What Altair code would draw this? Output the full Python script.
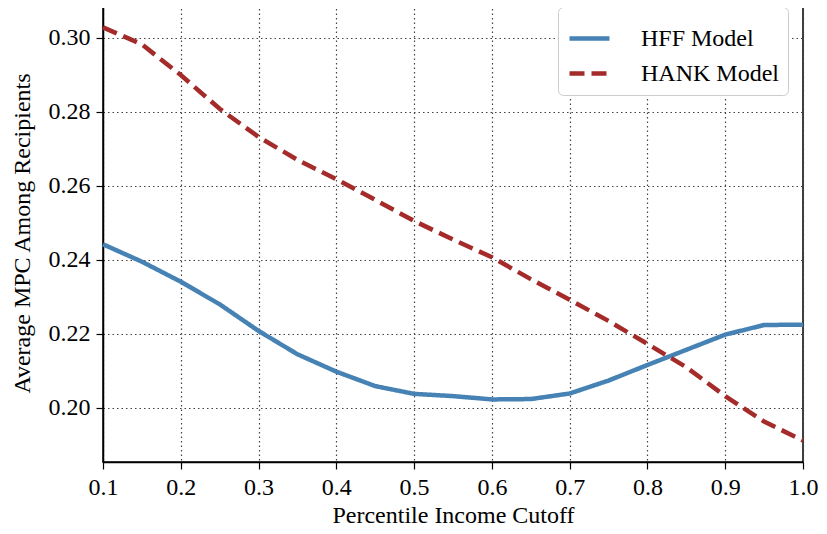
import altair as alt
import pandas as pd

x_vals = [0.10, 0.15, 0.20, 0.25, 0.30, 0.35, 0.40, 0.45, 0.50, 0.55,
          0.60, 0.65, 0.70, 0.75, 0.80, 0.85, 0.90, 0.95, 1.00]
hff = [0.2442, 0.2395, 0.2341, 0.2280, 0.2208, 0.2145, 0.2098, 0.2059, 0.2038, 0.2032,
       0.2023, 0.2024, 0.2039, 0.2074, 0.2116, 0.2157, 0.2198, 0.2224, 0.2225]
hank = [0.3028, 0.2982, 0.2899, 0.2808, 0.2732, 0.2670, 0.2618, 0.2562, 0.2505, 0.2455,
        0.2407, 0.2348, 0.2292, 0.2235, 0.2173, 0.2110, 0.2032, 0.1963, 0.1912]
series_names = ["HFF Model", "HANK Model"]
x_ticks = [0.1, 0.2, 0.3, 0.4, 0.5, 0.6, 0.7, 0.8, 0.9, 1.0]
y_ticks = [0.20, 0.22, 0.24, 0.26, 0.28, 0.30]

rows = []
for xv, a, b in zip(x_vals, hff, hank):
    rows.append({"x": xv, "y": a, "model": series_names[0]})
    rows.append({"x": xv, "y": b, "model": series_names[1]})
df = pd.DataFrame(rows)

FONT = "Liberation Serif"

legend = alt.Legend(title=None, orient="none", legendX=455, legendY=3,
                    symbolType="stroke", symbolSize=1600,
                    symbolStrokeWidth=4.5, labelFontSize=24,
                    labelFont=FONT, labelColor="black", fillColor="white",
                    strokeColor="#cccccc", cornerRadius=5,
                    padding=9, rowPadding=-2, labelOffset=29, labelFontWeight="normal")

chart = alt.Chart(df).mark_line(strokeWidth=4.5).encode(
    x=alt.X("x:Q", title="Percentile Income Cutoff",
            scale=alt.Scale(domain=[0.1, 1.0], nice=False, zero=False),
            axis=alt.Axis(values=x_ticks, format=".1f", labelFlush=False,
                          labelFontSize=24, titleFontSize=24, labelFont=FONT,
                          titleFont=FONT, titlePadding=4, labelPadding=6)),
    y=alt.Y("y:Q", title="Average MPC Among Recipients",
            scale=alt.Scale(domain=[0.1854, 0.3091], nice=False, zero=False),
            axis=alt.Axis(values=y_ticks, format=".2f", labelFlush=False,
                          labelFontSize=24, titleFontSize=24, labelFont=FONT,
                          titleFont=FONT, titlePadding=14, labelPadding=6)),
    color=alt.Color("model:N", sort=series_names,
                    scale=alt.Scale(domain=series_names, range=["#4682b4", "#a52a2a"]),
                    legend=legend),
    strokeDash=alt.StrokeDash("model:N", sort=series_names,
                              scale=alt.Scale(domain=series_names, range=[[1, 0], [15, 7]]),
                              legend=legend),
).properties(
    width=700, height=458,
    autosize=alt.AutoSizeParams(type="none"),
    padding={"left": 95, "top": -4, "right": 16, "bottom": 64},
).configure(
    font=FONT
).configure_view(
    stroke="black", strokeWidth=1.5
).configure_axis(
    labelFont=FONT, titleFont=FONT, labelColor="black", titleColor="black",
    titleFontWeight="normal", labelFontWeight="normal",
    domainColor="black", domainWidth=1.5,
    tickColor="black", tickSize=7, tickWidth=1.2,
    grid=True, gridColor="#444444", gridDash=[1.5, 3], gridWidth=1.2, gridOpacity=1
)

chart.save("out.html", embed_options={"renderer": "svg", "actions": False})
